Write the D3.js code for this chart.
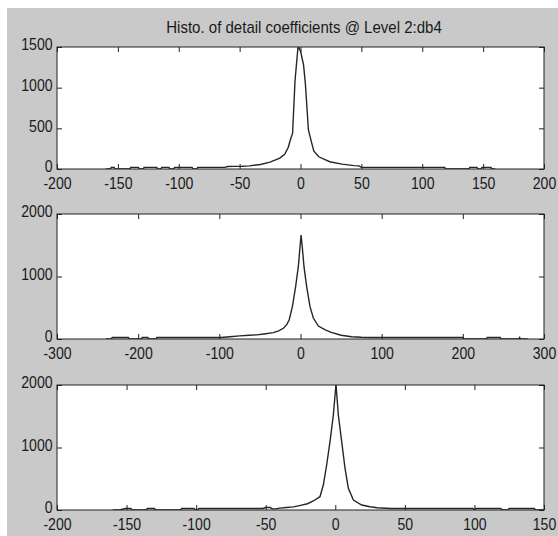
<!DOCTYPE html>
<html>
<head>
<meta charset="utf-8">
<script src="https://cdn.jsdelivr.net/npm/d3@7"></script>
<style>
  body { margin: 0; background: #fff; }
  text { font-family: "Liberation Sans", Arial, sans-serif; fill: #1a1a1a; }
</style>
</head>
<body>
<svg id="chart"></svg>
<script>
// Chart dimensions
const width = 558;
const height = 536;

const titleText = "Histo. of detail coefficients @ Level 2:db4";

// Panel 1 histogram (bin centre, count)
const p1X = [-160, -156, -155.5, -153, -152.5, -140, -139.5, -133, -132.5, -129, -128.5, -118, -117.5,
  -114.5, -114, -108, -107.5, -104, -103.5, -89, -88.5, -85, -84.5, -62, -60, -55, -48, -42, -33, -25,
  -17, -13, -10, -8.5, -6.5, -4.5, -2, 0, 2.5, 4, 6.5, 9, 11, 15, 24, 34, 44, 48, 50, 118.5, 119,
  138.5, 139, 145, 145.5, 148.5, 149, 156.5, 157, 160];
const p1Y = [0, 0, 20, 20, 0, 0, 20, 20, 0, 0, 20, 20, 0,
  0, 20, 20, 0, 0, 20, 20, 0, 0, 20, 20, 30, 32, 34, 38, 55, 85,
  134, 180, 268, 350, 440, 1085, 1510, 1450, 1280, 1050, 480, 330, 220, 150, 89, 60, 42, 38, 20, 20, 0,
  0, 20, 20, 0, 0, 20, 20, 0, 0];

// Panel 2 histogram
const p2X = [-240, -233, -232, -212, -211, -196, -195, -188, -187, -178, -177, -98, -87, -75, -63, -54,
  -45, -33.5, -27, -21, -17, -14, -10, -6, -2.7, 0.7, 2, 4.3, 7.6, 11.7, 15.8, 22, 30, 37, 50, 63, 75,
  86, 99, 200, 201, 229, 230, 246, 247, 269, 270, 271, 280];
const p2Y = [0, 0, 24, 24, 0, 0, 24, 24, 0, 0, 24, 24, 37, 50, 60, 66,
  80, 101, 130, 171, 230, 304, 517, 837, 1157, 1664, 1500, 1157, 837, 517, 336, 208, 150, 110, 60, 37, 28,
  24, 24, 24, 0, 0, 24, 24, 0, 0, 24, 0, 0];

// Panel 3 histogram
const p3X = [-160, -155, -151, -147, -146, -136, -135, -130, -129, -111, -110.5, -101.5, -100.5, -99, -98,
  -52, -50, -47, -45, -43, -40, -35, -30, -25, -20, -15.8, -11, -8.6, -6.2, -3.8, -1.4, 0.5, 2.2, 4.6,
  7, 9.4, 13, 19, 25, 30, 40, 99, 100, 101, 119, 120, 124, 125, 143, 144, 150];
const p3Y = [0, 0, 24, 24, 0, 0, 24, 24, 0, 0, 24, 24, 0, 0, 24,
  24, 40, 40, 18, 18, 30, 40, 50, 75, 100, 144, 213, 400, 720, 1093, 1520, 2010, 1520, 1093,
  667, 347, 160, 80, 53, 35, 24, 24, 0, 24, 24, 0, 0, 24, 24, 0, 0];

// Axis domains and ticks
const p1XDomain = [-200, 200];
const p1YDomain = [0, 1500];
const p1XTicks = [-200, -150, -100, -50, 0, 50, 100, 150, 200];
const p1YTicks = [0, 500, 1000, 1500];

const p2XDomain = [-300, 300];
const p2YDomain = [0, 2000];
const p2XTicks = [-300, -200, -100, 0, 100, 200, 300];
const p2YTicks = [0, 1000, 2000];

const p3XDomain = [-200, 150];
const p3YDomain = [0, 2000];
const p3XTicks = [-200, -150, -100, -50, 0, 50, 100, 150];
const p3YTicks = [0, 1000, 2000];

const panels = [
  { xs: p1X, ys: p1Y, xDomain: p1XDomain, yDomain: p1YDomain, xTicks: p1XTicks, yTicks: p1YTicks, top: 47, bottom: 169 },
  { xs: p2X, ys: p2Y, xDomain: p2XDomain, yDomain: p2YDomain, xTicks: p2XTicks, yTicks: p2YTicks, top: 214, bottom: 339 },
  { xs: p3X, ys: p3Y, xDomain: p3XDomain, yDomain: p3YDomain, xTicks: p3XTicks, yTicks: p3YTicks, top: 385, bottom: 510 }
];

const plotLeft = 57;
const plotRight = 544;

// plain labels, hyphen minus like the original
const fmt = d => String(d);

const svg = d3.select("#chart")
  .attr("width", width)
  .attr("height", height);

// Figure background
svg.append("rect")
  .attr("x", 7)
  .attr("y", 8)
  .attr("width", width - 7)
  .attr("height", height - 8)
  .attr("fill", "#c9c9c9");

// Title
svg.append("text")
  .attr("transform", "translate(304,27) scale(0.94,1)")
  .attr("dy", "0.35em")
  .attr("text-anchor", "middle")
  .style("font-size", "16px")
  .text(titleText);

panels.forEach((p, i) => {
  const x = d3.scaleLinear().domain(p.xDomain).range([plotLeft, plotRight]);
  const y = d3.scaleLinear().domain(p.yDomain).range([p.bottom, p.top]);

  const g = svg.append("g");

  // Plot area
  g.append("rect")
    .attr("x", plotLeft)
    .attr("y", p.top)
    .attr("width", plotRight - plotLeft)
    .attr("height", p.bottom - p.top)
    .attr("fill", "#fff");

  g.append("clipPath")
    .attr("id", "clip" + i)
    .append("rect")
    .attr("x", plotLeft)
    .attr("y", p.top)
    .attr("width", plotRight - plotLeft)
    .attr("height", p.bottom - p.top);

  // Histogram line
  const line = d3.line()
    .x(d => x(d[0]))
    .y(d => y(d[1]));

  g.append("path")
    .datum(d3.zip(p.xs, p.ys))
    .attr("clip-path", `url(#clip${i})`)
    .attr("d", line)
    .attr("fill", "none")
    .attr("stroke", "#262626")
    .attr("stroke-width", 1.4);

  // Axes with inward ticks
  const bottomAxis = g.append("g")
    .attr("transform", `translate(0,${p.bottom})`)
    .call(d3.axisBottom(x).tickValues(p.xTicks).tickSize(-5).tickFormat(fmt));
  const topAxis = g.append("g")
    .attr("transform", `translate(0,${p.top})`)
    .call(d3.axisTop(x).tickValues(p.xTicks).tickSize(-5).tickFormat(""));
  const leftAxis = g.append("g")
    .attr("transform", `translate(${plotLeft},0)`)
    .call(d3.axisLeft(y).tickValues(p.yTicks).tickSize(-5).tickPadding(5).tickFormat(fmt));
  const rightAxis = g.append("g")
    .attr("transform", `translate(${plotRight},0)`)
    .call(d3.axisRight(y).tickValues(p.yTicks).tickSize(-5).tickFormat(""));

  [bottomAxis, topAxis, leftAxis, rightAxis].forEach(a => {
    a.select(".domain").remove();
    a.selectAll("line").attr("stroke", "#222");
    a.selectAll("text")
      .style("font-size", "16px")
      .style("font-family", null)
      .attr("transform", "scale(0.88,1)")
      .attr("fill", "#1a1a1a");
  });
  bottomAxis.selectAll("text").attr("y", 8.5);
  leftAxis.selectAll("text").attr("dy", "0.18em");

  // Frame
  g.append("rect")
    .attr("x", plotLeft)
    .attr("y", p.top)
    .attr("width", plotRight - plotLeft)
    .attr("height", p.bottom - p.top)
    .attr("fill", "none")
    .attr("stroke", "#222")
    .attr("stroke-width", 1);
});
</script>
</body>
</html>
